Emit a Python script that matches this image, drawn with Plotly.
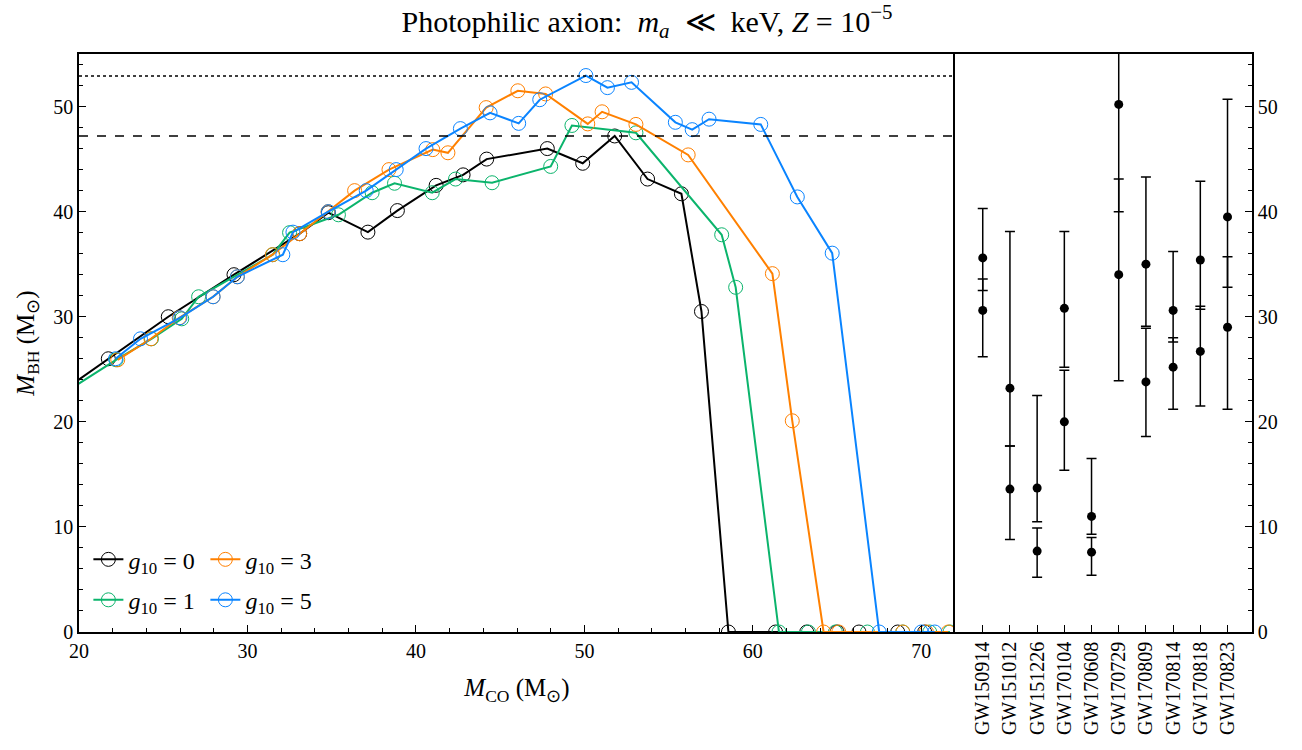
import plotly.graph_objects as go

# ---------------- data ----------------
black_x = [18.2, 21.74, 25.3, 29.2, 33.1, 34.8, 37.15, 38.9, 41.2, 42.8, 44.2, 47.8, 49.9, 51.8,
           53.75, 55.76, 56.95, 58.55, 61.35, 63.2, 65.0, 66.3, 68.6, 70.2]
black_y = [22.0, 26.0, 30.0, 34.0, 37.9, 39.9, 38.05, 40.1, 42.5, 43.5, 45.0, 46.0, 44.6, 47.2,
           43.1, 41.7, 30.5, 0, 0, 0, 0, 0, 0, 0]

green_x = [18.4, 22.2, 24.3, 26.1, 27.1, 31.5, 32.5, 35.4, 37.4, 38.73, 40.97, 42.35, 44.52, 48.0,
           49.26, 53.06, 58.15, 58.98, 61.55, 63.3, 64.9, 66.8, 68.9, 70.5, 71.7]
green_y = [22.0, 25.9, 27.9, 29.8, 31.9, 35.9, 38.0, 39.7, 41.8, 42.7, 41.8, 43.1, 42.75, 44.3,
           48.2, 47.5, 37.8, 32.8, 0, 0, 0, 0, 0, 0, 0]

orange_x = [22.3, 24.27, 25.95, 27.96, 29.4, 31.48, 33.1, 34.78, 36.36, 38.4, 41.0, 41.9, 44.17,
            46.05, 47.7, 50.2, 51.05, 53.06, 56.16, 61.16, 62.34, 64.2, 65.1, 68.9, 70.3, 71.6]
orange_y = [25.9, 27.9, 29.9, 31.9, 33.8, 35.9, 37.9, 40.0, 42.0, 44.0, 45.9, 45.6, 49.9,
            51.5, 51.2, 48.35, 49.5, 48.3, 45.4, 34.1, 20.1, 0, 0, 0, 0, 0]

blue_x = [22.17, 23.65, 25.99, 27.96, 29.4, 32.1, 32.7, 34.8, 37.05, 38.83, 40.6, 42.64, 44.4,
          46.1, 47.35, 50.09, 51.37, 52.8, 55.4, 56.4, 57.4, 60.47, 62.64, 64.71, 67.5, 70.0, 70.8]
blue_y = [26.0, 27.9, 29.9, 31.9, 33.8, 35.9, 38.05, 40.0, 42.0, 44.0, 46.0, 47.9, 49.4,
          48.4, 50.65, 52.95, 51.8, 52.3, 48.5, 47.8, 48.8, 48.3, 41.4, 36.05, 0, 0, 0]

hline_dotted = 52.9
hline_dashed = 47.2

events = ["GW150914", "GW151012", "GW151226", "GW170104", "GW170608",
          "GW170729", "GW170809", "GW170814", "GW170818", "GW170823"]
m1 = [35.6, 23.2, 13.7, 30.8, 11.0, 50.2, 35.0, 30.6, 35.4, 39.5]
m1_up = [4.7, 14.9, 8.8, 7.3, 5.5, 16.2, 8.3, 5.6, 7.5, 11.2]
m1_lo = [3.1, 5.5, 3.2, 5.6, 1.7, 10.2, 5.9, 3.0, 4.7, 6.7]
m2 = [30.6, 13.6, 7.7, 20.0, 7.6, 34.0, 23.8, 25.2, 26.7, 29.0]
m2_up = [3.0, 4.1, 2.2, 4.9, 1.4, 9.1, 5.1, 2.8, 4.3, 6.7]
m2_lo = [4.4, 4.8, 2.5, 4.6, 2.2, 10.1, 5.2, 4.0, 5.2, 7.8]

# ---------------- figure ----------------
FONT = "Liberation Serif"
NB = "\u00a0"
fig = go.Figure()

series = [
    (black_x, black_y, "black", "<i>g</i><sub>10</sub> = 0", "legend"),
    (green_x, green_y, "#0bb46c", "<i>g</i><sub>10</sub> = 1", "legend2"),
    (orange_x, orange_y, "#ff8000", "<i>g</i><sub>10</sub> = 3", "legend"),
    (blue_x, blue_y, "#0a84ff", "<i>g</i><sub>10</sub> = 5", "legend2"),
]
for xs, ys, col, name, lg in series:
    fig.add_trace(go.Scatter(
        x=xs, y=ys, mode="lines+markers", name=name, legend=lg,
        line=dict(color=col, width=2),
        marker=dict(symbol="circle-open", size=14, color=col, line=dict(width=1, color=col)),
        xaxis="x", yaxis="y",
    ))

idx = list(range(len(events)))
for ys, up, lo in [(m1, m1_up, m1_lo), (m2, m2_up, m2_lo)]:
    fig.add_trace(go.Scatter(
        x=idx, y=ys, mode="markers", showlegend=False,
        marker=dict(color="black", size=9),
        error_y=dict(type="data", symmetric=False, array=up, arrayminus=lo,
                     color="black", thickness=1.5, width=5),
        xaxis="x2", yaxis="y2",
    ))

fig.add_shape(type="line", xref="x", yref="y", x0=20, x1=72, y0=hline_dotted, y1=hline_dotted,
              line=dict(color="black", width=1.5, dash="dot"))
fig.add_shape(type="line", xref="x", yref="y", x0=20, x1=72, y0=hline_dashed, y1=hline_dashed,
              line=dict(color="black", width=1.5, dash="dash"))

axis_common = dict(showline=True, linecolor="black", linewidth=1.5,
                   showgrid=False, zeroline=False, ticks="inside", ticklen=7, tickwidth=1,
                   tickcolor="black", tickfont=dict(family=FONT, size=20, color="black"),
                   automargin=False)

split = (955 - 79) / (1252 - 79)

title_text = ("Photophilic axion:" + NB + NB + "<i>m<sub>a</sub></i>" + NB + NB + "≪" + NB + NB +
              "keV," + NB + "<i>Z</i>" + NB + "=" + NB + "10<sup>−5</sup>")

fig.update_layout(
    width=1302, height=750,
    margin=dict(l=79, r=50, t=54, b=118),
    paper_bgcolor="white", plot_bgcolor="white",
    font=dict(family=FONT, color="black"),
    title=dict(text=title_text,
               x=0.497, xanchor="center", y=0.972, yanchor="middle",
               font=dict(family=FONT, size=30, color="black")),
    xaxis=dict(domain=[0, split], range=[20, 72], dtick=10, tick0=20, mirror=True,
               minor=dict(ticks="inside", dtick=2, ticklen=4, tickcolor="black"),
               title=dict(text="<i>M</i><sub>CO</sub>" + NB + "(M<sub>⊙</sub>)",
                          font=dict(family=FONT, size=25), standoff=18),
               anchor="y", **axis_common),
    yaxis=dict(domain=[0, 1], range=[0, 55], dtick=10, mirror=False,
               minor=dict(ticks="inside", dtick=2, ticklen=4, tickcolor="black"),
               title=dict(text="<i>M</i><sub>BH</sub>" + NB + "(M<sub>⊙</sub>)",
                          font=dict(family=FONT, size=25), standoff=12),
               anchor="x", **axis_common),
    xaxis2=dict(domain=[split, 1], range=[-1.02, 9.9], tickvals=idx, ticktext=events,
                tickangle=-90, anchor="y2", mirror=True, **axis_common),
    yaxis2=dict(domain=[0, 1], range=[0, 55], dtick=10, side="right", mirror=True,
                minor=dict(ticks="inside", dtick=2, ticklen=4, tickcolor="black"),
                anchor="x2", **axis_common),
    legend=dict(x=0.008, y=0.125, xanchor="left", yanchor="middle", orientation="h",
                bgcolor="rgba(0,0,0,0)", font=dict(family=FONT, size=24),
                entrywidth=72, entrywidthmode="pixels", tracegroupgap=0, itemwidth=30),
    legend2=dict(x=0.008, y=0.055, xanchor="left", yanchor="middle", orientation="h",
                 bgcolor="rgba(0,0,0,0)", font=dict(family=FONT, size=24),
                 entrywidth=72, entrywidthmode="pixels", tracegroupgap=0, itemwidth=30),
)

fig.write_html("out.html")
